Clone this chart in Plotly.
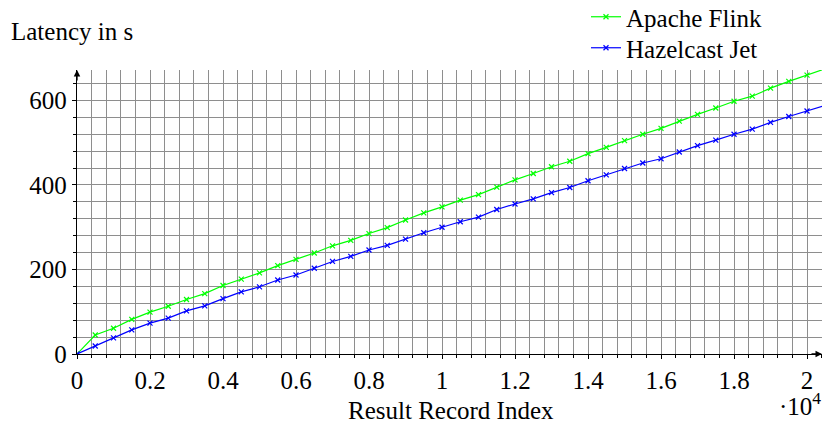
import plotly.graph_objects as go

record_index = [i * 500 for i in range(42)]
flink_latency = [0, 45, 61, 82, 99, 113, 129, 143, 162, 177, 192, 209, 224, 239, 256, 269,
                 285, 299, 317, 334, 348, 364, 377, 395, 412, 427, 443, 456, 474, 489, 505,
                 520, 534, 551, 567, 582, 598, 610, 629, 645, 660, 675]
jet_latency = [0, 19, 38, 57, 73, 85, 102, 114, 131, 147, 159, 175, 187, 203, 219, 231,
               246, 257, 272, 287, 300, 313, 324, 342, 355, 367, 382, 394, 410, 424, 439,
               452, 462, 478, 493, 506, 520, 532, 548, 562, 575, 588]
x_tickvals = [0, 2000, 4000, 6000, 8000, 10000, 12000, 14000, 16000, 18000, 20000]
x_ticktext = ["0", "0.2", "0.4", "0.6", "0.8", "1", "1.2", "1.4", "1.6", "1.8", "2"]
y_tickvals = [0, 200, 400, 600]

FONT = "'Liberation Serif', serif"
FS = 25
GRID = "#8e8e8e"

fig = go.Figure()
fig.add_trace(go.Scatter(x=record_index, y=flink_latency, name="Apache Flink", mode="lines+markers",
                         line=dict(color="#00ff00", width=1.2), legend="legend",
                         marker=dict(symbol="x-thin", size=5, line=dict(color="#00ff00", width=1.2))))
fig.add_trace(go.Scatter(x=record_index, y=jet_latency, name="Hazelcast Jet", mode="lines+markers",
                         line=dict(color="#0000ff", width=1.2), legend="legend2",
                         marker=dict(symbol="x-thin", size=5, line=dict(color="#0000ff", width=1.2))))

xmax = 20410
ymax = 672
LX = (586 - 77) / 745
fig.update_layout(
    template="none",
    width=824, height=426,
    margin=dict(l=77, r=2, t=70, b=72, autoexpand=False),
    plot_bgcolor="white", paper_bgcolor="white",
    font=dict(family=FONT, size=FS, color="black"),
    showlegend=True,
    legend=dict(x=LX, y=(354 - 17) / 284, xanchor="left", yanchor="middle",
                bgcolor="rgba(0,0,0,0)", font=dict(family=FONT, size=FS)),
    legend2=dict(x=LX, y=(354 - 48) / 284, xanchor="left", yanchor="middle",
                 bgcolor="rgba(0,0,0,0)", font=dict(family=FONT, size=FS)),
    xaxis=dict(range=[0, xmax], tickvals=x_tickvals, ticktext=x_ticktext,
               showgrid=True, gridcolor=GRID, gridwidth=1,
               minor=dict(dtick=400, tick0=0, showgrid=True, gridcolor=GRID, gridwidth=1,
                          ticks="outside", ticklen=3, tickcolor="black"),
               ticks="outside", ticklen=4, tickcolor="black",
               showline=True, linecolor="black", linewidth=1.3, zeroline=False,
               tickfont=dict(family=FONT, size=FS)),
    yaxis=dict(range=[0, ymax], tickvals=y_tickvals,
               showgrid=True, gridcolor=GRID, gridwidth=1,
               minor=dict(dtick=40, tick0=0, showgrid=True, gridcolor=GRID, gridwidth=1,
                          ticks="outside", ticklen=3, tickcolor="black"),
               ticks="outside", ticklen=4, tickcolor="black",
               showline=True, linecolor="black", linewidth=1.3, zeroline=False,
               tickfont=dict(family=FONT, size=FS)),
)

# axis arrows
fig.add_annotation(x=xmax, y=0, xref="x", yref="y", ax=-12, ay=0, text="", showarrow=True,
                   arrowhead=2, arrowsize=1, arrowwidth=1.3, arrowcolor="black")
fig.add_annotation(x=0, y=ymax, xref="x", yref="y", ax=0, ay=12, text="", showarrow=True,
                   arrowhead=2, arrowsize=1, arrowwidth=1.3, arrowcolor="black")

# axis labels
fig.add_annotation(x=(9 - 77) / 745, y=(354 - 32) / 284, xref="paper", yref="paper",
                   xanchor="left", yanchor="middle", text="Latency in s", showarrow=False,
                   font=dict(family=FONT, size=FS))
fig.add_annotation(x=(451 - 77) / 745, y=(354 - 410) / 284, xref="paper", yref="paper",
                   xanchor="center", yanchor="middle", text="Result Record Index", showarrow=False,
                   font=dict(family=FONT, size=FS))
fig.add_annotation(x=(823 - 77) / 745, y=(354 - 404) / 284, xref="paper", yref="paper",
                   xanchor="right", yanchor="middle", text="·10<sup>4</sup>", showarrow=False,
                   font=dict(family=FONT, size=FS))

fig.write_html("out.html")
